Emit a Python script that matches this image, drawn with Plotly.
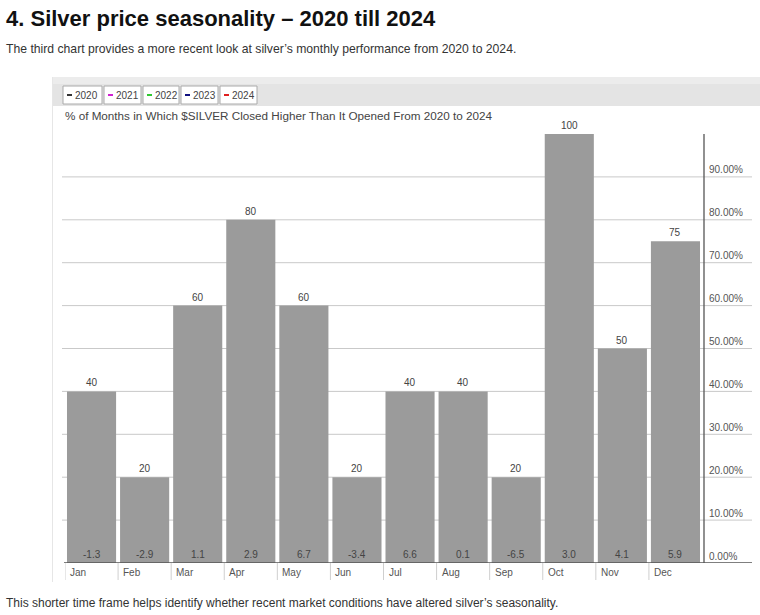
import plotly.graph_objects as go

W, H = 760, 615

months = ["Jan", "Feb", "Mar", "Apr", "May", "Jun", "Jul", "Aug", "Sep", "Oct", "Nov", "Dec"]
pct_higher = [40, 20, 60, 80, 60, 20, 40, 40, 20, 100, 50, 75]
avg_change = [-1.3, -2.9, 1.1, 2.9, 6.7, -3.4, 6.6, 0.1, -6.5, 3.0, 4.1, 5.9]
legend_years = ["2020", "2021", "2022", "2023", "2024"]
legend_colors = ["#333333", "#d020d0", "#30c830", "#101080", "#e02020"]
ytick_vals = [0, 10, 20, 30, 40, 50, 60, 70, 80, 90]
ytick_text = [f"{v:.2f}%" for v in ytick_vals]

FONT = "Liberation Sans, Arial, sans-serif"


def px(x):
    return x / W


def py(y):
    return 1 - y / H


x_left, x_right = 65, 702
y_base, y_top = 563, 134

fig = go.Figure()
fig.add_trace(go.Bar(
    x=list(range(len(months))), y=pct_higher,
    marker=dict(color="#9b9b9b", line=dict(width=0)),
    hoverinfo="skip", showlegend=False,
))

shapes = []
annotations = []

# header band (light gradient approximated by two rects)
shapes.append(dict(type="rect", xref="paper", yref="paper", x0=px(52), x1=1, y0=py(106), y1=py(77),
                   fillcolor="#e4e4e4", line=dict(width=0), layer="below"))
shapes.append(dict(type="rect", xref="paper", yref="paper", x0=px(52), x1=1, y0=py(84), y1=py(77),
                   fillcolor="#ececec", line=dict(width=0), layer="below"))
# faint left frame
shapes.append(dict(type="line", xref="paper", yref="paper", x0=px(52.5), x1=px(52.5), y0=py(582), y1=py(77),
                   line=dict(color="#e6e6e6", width=1), layer="below"))

# gridlines
for v in ytick_vals[1:]:
    shapes.append(dict(type="line", xref="paper", yref="y", x0=px(62), x1=px(752), y0=v, y1=v,
                       line=dict(color="#c9c9c9", width=1), layer="below"))
# right axis line
shapes.append(dict(type="line", xref="paper", yref="y", x0=px(704), x1=px(704), y0=0, y1=100,
                   line=dict(color="#555555", width=1.3), layer="above"))
# baseline
shapes.append(dict(type="line", xref="paper", yref="y", x0=px(64), x1=px(752), y0=0, y1=0,
                   line=dict(color="#555555", width=1.3), layer="above"))
# category separators
for i in range(len(months)):
    shapes.append(dict(type="line", xref="x", yref="paper", x0=i - 0.5, x1=i - 0.5, y0=py(580), y1=py(563),
                       line=dict(color="#cfcfcf", width=1), layer="above"))

# month labels
for i, m in enumerate(months):
    annotations.append(dict(x=i - 0.5, y=py(572), xref="x", yref="paper", text=m, showarrow=False,
                            xanchor="left", yanchor="middle", xshift=3,
                            font=dict(family=FONT, size=10, color="#555555")))
# top value labels
for i, v in enumerate(pct_higher):
    annotations.append(dict(x=i, y=v, xref="x", yref="y", text=str(v), showarrow=False,
                            xanchor="center", yanchor="bottom", yshift=1,
                            font=dict(family=FONT, size=10, color="#444444")))
# bottom change labels
for i, v in enumerate(avg_change):
    annotations.append(dict(x=i, y=0, xref="x", yref="y", text=f"{v:.1f}", showarrow=False,
                            xanchor="center", yanchor="bottom", yshift=1,
                            font=dict(family=FONT, size=10, color="#444444")))
# y tick labels
for v, t in zip(ytick_vals, ytick_text):
    annotations.append(dict(x=px(707), y=v, xref="paper", yref="y", text=t, showarrow=False,
                            xanchor="left", yanchor="middle", yshift=7,
                            font=dict(family=FONT, size=10, color="#555555")))

# legend boxes
box_x = [(63, 102), (104, 141), (143, 179), (181, 218), (220, 257)]
for (x0, x1), yr, col in zip(box_x, legend_years, legend_colors):
    shapes.append(dict(type="rect", xref="paper", yref="paper", x0=px(x0), x1=px(x1), y0=py(104), y1=py(86),
                       fillcolor="#ffffff", line=dict(color="#aaaaaa", width=1)))
    shapes.append(dict(type="line", xref="paper", yref="paper", x0=px(x0 + 4), x1=px(x0 + 9),
                       y0=py(95), y1=py(95), line=dict(color=col, width=2)))
    annotations.append(dict(x=px(x0 + 10), y=py(95), xref="paper", yref="paper",
                            text=yr, showarrow=False,
                            xanchor="left", yanchor="middle",
                            font=dict(family=FONT, size=10, color="#444444")))

# chart title
annotations.append(dict(x=px(63), y=py(115), xref="paper", yref="paper",
                        text="% of Months in Which $SILVER Closed Higher Than It Opened From 2020 to 2024",
                        showarrow=False, xanchor="left", yanchor="middle",
                        font=dict(family=FONT, size=11.7, color="#444444")))

# page texts
annotations.append(dict(x=px(4), y=py(18), xref="paper", yref="paper",
                        text="<b>4. Silver price seasonality – 2020 till 2024</b>",
                        showarrow=False, xanchor="left", yanchor="middle",
                        font=dict(family=FONT, size=22, color="#111111")))
annotations.append(dict(x=px(4), y=py(49), xref="paper", yref="paper",
                        text="The third chart provides a more recent look at silver’s monthly performance from 2020 to 2024.",
                        showarrow=False, xanchor="left", yanchor="middle",
                        font=dict(family=FONT, size=12.2, color="#333333")))
annotations.append(dict(x=px(4), y=py(603), xref="paper", yref="paper",
                        text="This shorter time frame helps identify whether recent market conditions have altered silver’s seasonality.",
                        showarrow=False, xanchor="left", yanchor="middle",
                        font=dict(family=FONT, size=12, color="#333333")))

fig.update_layout(
    width=W, height=H, margin=dict(l=0, r=0, t=0, b=0),
    paper_bgcolor="#ffffff", plot_bgcolor="rgba(0,0,0,0)",
    bargap=0.075,
    xaxis=dict(domain=[px(x_left), px(x_right)], range=[-0.5, len(months) - 0.5],
               showgrid=False, zeroline=False, showticklabels=False, showline=False, ticks=""),
    yaxis=dict(domain=[py(y_base), py(y_top)], range=[0, 100],
               showgrid=False, zeroline=False, showticklabels=False, showline=False, ticks=""),
    shapes=shapes, annotations=annotations, showlegend=False,
)

fig.write_html("out.html")
